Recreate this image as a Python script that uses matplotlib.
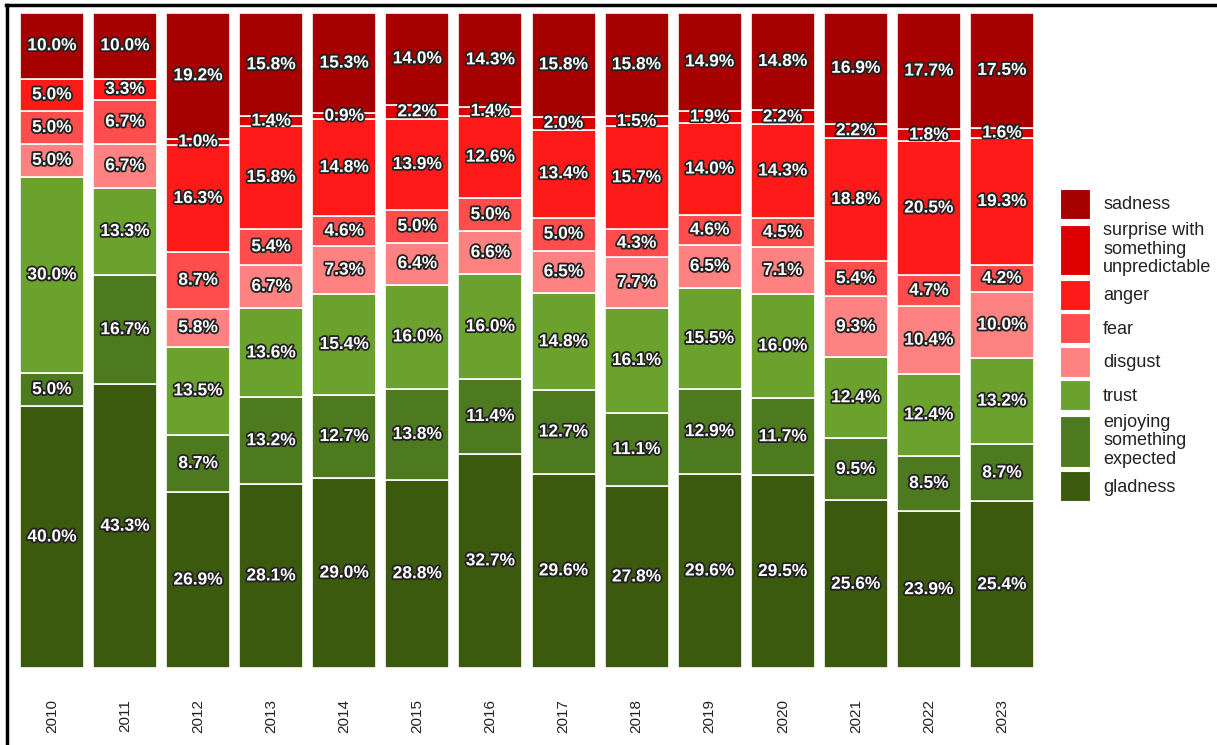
import matplotlib.pyplot as plt
import matplotlib.patheffects as pe
from matplotlib.legend_handler import HandlerBase
from matplotlib.patches import Rectangle
import numpy as np

plt.rcParams['font.family'] = ['Liberation Sans', 'DejaVu Sans']

years = ['2010', '2011', '2012', '2013', '2014', '2015', '2016',
         '2017', '2018', '2019', '2020', '2021', '2022', '2023']

# stacked bottom to top
gladness = [40.0, 43.3, 26.9, 28.1, 29.0, 28.8, 32.7, 29.6, 27.8, 29.6, 29.5, 25.6, 23.9, 25.4]
enjoying = [5.0, 16.7, 8.7, 13.2, 12.7, 13.8, 11.4, 12.7, 11.1, 12.9, 11.7, 9.5, 8.5, 8.7]
trust = [30.0, 13.3, 13.5, 13.6, 15.4, 16.0, 16.0, 14.8, 16.1, 15.5, 16.0, 12.4, 12.4, 13.2]
disgust = [5.0, 6.7, 5.8, 6.7, 7.3, 6.4, 6.6, 6.5, 7.7, 6.5, 7.1, 9.3, 10.4, 10.0]
fear = [5.0, 6.7, 8.7, 5.4, 4.6, 5.0, 5.0, 5.0, 4.3, 4.6, 4.5, 5.4, 4.7, 4.2]
anger = [5.0, 3.3, 16.3, 15.8, 14.8, 13.9, 12.6, 13.4, 15.7, 14.0, 14.3, 18.8, 20.5, 19.3]
surprise = [0.0, 0.0, 1.0, 1.4, 0.9, 2.2, 1.4, 2.0, 1.5, 1.9, 2.2, 2.2, 1.8, 1.6]
sadness = [10.0, 10.0, 19.2, 15.8, 15.3, 14.0, 14.3, 15.8, 15.8, 14.9, 14.8, 16.9, 17.7, 17.5]

series = [gladness, enjoying, trust, disgust, fear, anger, surprise, sadness]
names = ['gladness', 'enjoying\nsomething\nexpected', 'trust', 'disgust', 'fear',
         'anger', 'surprise with\nsomething\nunpredictable', 'sadness']
colors = ['#3B5A0E', '#4E7A1F', '#6BA22E', '#FF8282', '#FF4D4D',
          '#FF1A1A', '#DE0000', '#A60000']

data = np.array(series)
shares = data / data.sum(axis=0) * 100  # fill to 100%


class KeyBox(HandlerBase):
    # legend key that grows with the number of label lines, like ggplot
    def create_artists(self, legend, orig_handle, xdescent, ydescent,
                       width, height, fontsize, trans):
        n = orig_handle.get_label().count('\n') + 1
        h = height if n == 1 else height * 1.68
        y0 = -ydescent + height / 2 - h / 2
        r = Rectangle((-xdescent, y0), width, h,
                      facecolor=orig_handle.patches[0].get_facecolor(),
                      edgecolor='white', linewidth=0.8, transform=trans)
        return [r]


fig = plt.figure(figsize=(12.17, 7.45), dpi=100)
ax = fig.add_axes([20 / 1217, 1 - 668 / 745, (1034 - 20) / 1217, (668 - 13) / 745])

x = np.arange(len(years))
bottom = np.zeros(len(years))
handles = []
for vals, shr, name, col in zip(series, shares, names, colors):
    bars = ax.bar(x, shr, bottom=bottom, width=0.875, color=col,
                  edgecolor='white', linewidth=1.2, label=name)
    handles.append(bars)
    for xi, v, s, b in zip(x, vals, shr, bottom):
        if v > 0:
            ax.text(xi, b + s / 2, f'{v:.1f}%', ha='center', va='center',
                    color='white', fontsize=12.5, fontweight='bold',
                    path_effects=[pe.withStroke(linewidth=2.6, foreground='#222222')])
    bottom = bottom + shr

ax.set_xlim(-0.4375, len(years) - 0.5625)
ax.set_ylim(0, 100)
ax.set_yticks([])
ax.set_xticks(x)
ax.set_xticklabels(years, rotation=90, fontsize=11, color='#222222')
ax.tick_params(axis='x', length=0, pad=22.5)
for sp in ax.spines.values():
    sp.set_visible(False)

leg = fig.legend(handles[::-1], names[::-1], loc='center left',
                 bbox_to_anchor=(1060 / 1217, 0.537), frameon=False, fontsize=13,
                 handlelength=1.67, handleheight=2.18, labelspacing=0.2,
                 handletextpad=0.72, borderaxespad=0, borderpad=0,
                 handler_map={type(handles[0]): KeyBox()})
for t in leg.get_texts():
    t.set_linespacing(1.1)
    t.set_color('#222222')

# partial frame around image (top and left)
fig.add_artist(plt.Line2D([6 / 1217, 1], [1 - 5 / 745, 1 - 5 / 745], color='black', lw=2.5))
fig.add_artist(plt.Line2D([7 / 1217, 7 / 1217], [0, 1 - 5 / 745], color='black', lw=2.5))

fig.savefig('out.png', dpi=100)
